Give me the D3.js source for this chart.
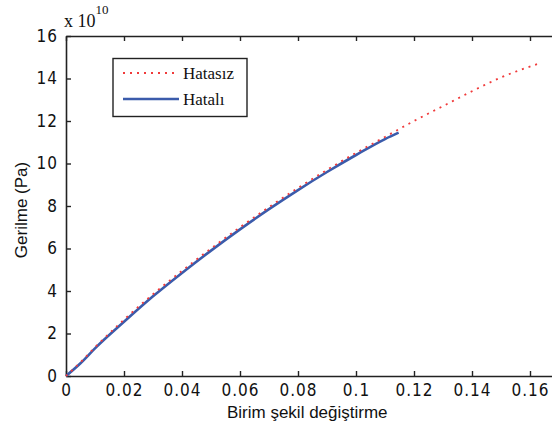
<!DOCTYPE html>
<html><head><meta charset="utf-8">
<script src="https://cdn.jsdelivr.net/npm/d3@7"></script>
<style>
body{margin:0;background:#fff;}
svg{display:block;}
.tick text{font-family:"Liberation Sans Narrow","DejaVu Sans Condensed",Arial,sans-serif;font-size:17px;letter-spacing:1px;fill:#111;}
</style>
</head><body>
<script>
// Data (stress in units of 1e10 Pa)
const strainRef = [0, 0.005, 0.01, 0.02, 0.03, 0.04, 0.05, 0.06, 0.07, 0.08, 0.09, 0.10, 0.11, 0.12, 0.13, 0.14, 0.15, 0.163];
const stressRef = [0, 0.65, 1.35, 2.65, 3.85, 4.95, 6.0, 7.0, 7.95, 8.85, 9.7, 10.5, 11.25, 12.0, 12.7, 13.4, 14.05, 14.7];
const strainErr = [0, 0.005, 0.01, 0.02, 0.03, 0.04, 0.05, 0.06, 0.07, 0.08, 0.09, 0.10, 0.11, 0.1147];
const stressErr = [0, 0.6, 1.3, 2.55, 3.75, 4.85, 5.9, 6.9, 7.85, 8.75, 9.6, 10.4, 11.15, 11.45];
const xTicks = [0, 0.02, 0.04, 0.06, 0.08, 0.1, 0.12, 0.14, 0.16];
const yTicks = [0, 2, 4, 6, 8, 10, 12, 14, 16];
const seriesNames = ["Hatasız", "Hatalı"];

const W = 552, H = 427;
const svg = d3.select("body").append("svg").attr("width", W).attr("height", H);
const x = d3.scaleLinear().domain([0, 0.18]).range([66, 588]);
const y = d3.scaleLinear().domain([0, 16]).range([376, 36]);

const axisColor = "#222";
const gb = svg.append("g").attr("transform", "translate(0,376)")
  .call(d3.axisBottom(x).tickValues(xTicks).tickSizeInner(-5).tickSizeOuter(0).tickPadding(10).tickFormat(d => d === 0 ? "0" : String(+d.toFixed(2))));
const gt = svg.append("g").attr("transform", "translate(0,36)")
  .call(d3.axisTop(x).tickValues(xTicks).tickSizeInner(-5).tickSizeOuter(0).tickFormat(""));
const gl = svg.append("g").attr("transform", "translate(66,0)")
  .call(d3.axisLeft(y).tickValues(yTicks).tickSizeInner(-5).tickSizeOuter(0).tickPadding(8));
[gb, gt, gl].forEach(g => {
  g.select(".domain").attr("stroke", axisColor).attr("stroke-width", 1.6);
  g.selectAll(".tick line").attr("stroke", axisColor).attr("stroke-width", 1.4);
});
gb.selectAll(".tick text").attr("dy", "0.6em");

const lineRef = d3.line().x((d, i) => x(strainRef[i])).y(d => y(d)).curve(d3.curveMonotoneX);
const lineErr = d3.line().x((d, i) => x(strainErr[i])).y(d => y(d)).curve(d3.curveMonotoneX);

svg.append("path").attr("d", lineErr(stressErr)).attr("fill", "none")
  .attr("stroke", "#3b5bab").attr("stroke-width", 2.6);
svg.append("path").attr("d", lineRef(stressRef)).attr("fill", "none")
  .attr("stroke", "#f03a3a").attr("stroke-width", 1.8).attr("stroke-dasharray", "2,5");

const ex = svg.append("text").attr("x", 64).attr("y", 27)
  .attr("font-family", "'Liberation Serif','Times New Roman',serif").attr("font-size", 18).attr("fill", "#111");
ex.append("tspan").text("x 10");
ex.append("tspan").attr("dy", -13).attr("font-size", 13).text("10");

svg.append("text").attr("x", x(0.0832)).attr("y", 418).attr("text-anchor", "middle")
  .attr("font-family", "'Liberation Sans',Arial,sans-serif").attr("font-size", 17).attr("fill", "#111")
  .text("Birim şekil değiştirme");
svg.append("text").attr("transform", "translate(27,210) rotate(-90)").attr("text-anchor", "middle")
  .attr("font-family", "'Liberation Sans',Arial,sans-serif").attr("font-size", 17).attr("fill", "#111")
  .text("Gerilme (Pa)");

const lg = svg.append("g");
lg.append("rect").attr("x", 113).attr("y", 58.5).attr("width", 134).attr("height", 58)
  .attr("fill", "#fff").attr("stroke", "#222").attr("stroke-width", 1.4);
const legColors = ["#f03a3a", "#3b5bab"];
seriesNames.forEach((name, i) => {
  const yy = 73 + i * 26;
  const l = lg.append("line").attr("x1", 123).attr("x2", 179).attr("y1", yy).attr("y2", yy)
    .attr("stroke", legColors[i]);
  if (i === 0) l.attr("stroke-width", 1.8).attr("stroke-dasharray", "2,5");
  else l.attr("stroke-width", 2.6);
  lg.append("text").attr("x", 183).attr("y", yy + 6)
    .attr("font-family", "'Liberation Serif','Times New Roman',serif").attr("font-size", 17).attr("fill", "#111")
    .text(name);
});
</script>
</body></html>
